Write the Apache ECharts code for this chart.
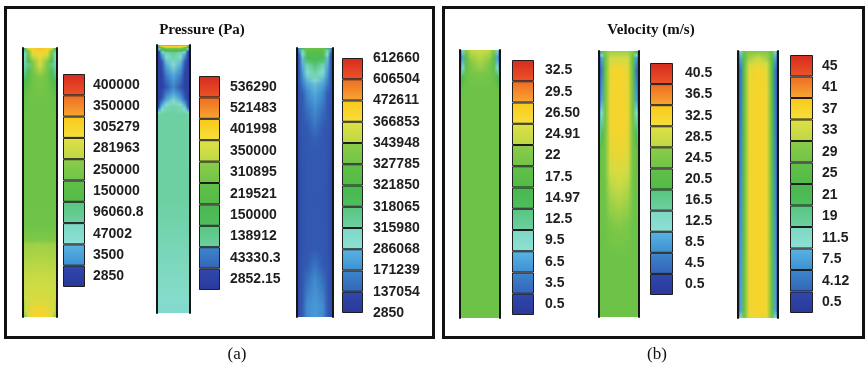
<!DOCTYPE html>
<html><head><meta charset="utf-8">
<script src="https://cdn.jsdelivr.net/npm/echarts@6/dist/echarts.min.js"></script>
<style>html,body{margin:0;padding:0;background:#fff}#c{width:866px;height:367px}</style>
</head><body><div id="c"></div>
<script>
// ================= DATA =================
// colour-bar tick labels (top -> bottom)
const pressureLabelsA = ['400000','350000','305279','281963','250000','150000','96060.8','47002','3500','2850'];
const pressureLabelsB = ['536290','521483','401998','350000','310895','219521','150000','138912','43330.3','2852.15'];
const pressureLabelsC = ['612660','606504','472611','366853','343948','327785','321850','318065','315980','286068','171239','137054','2850'];
const velocityLabelsA = ['32.5','29.5','26.50','24.91','22','17.5','14.97','12.5','9.5','6.5','3.5','0.5'];
const velocityLabelsB = ['40.5','36.5','32.5','28.5','24.5','20.5','16.5','12.5','8.5','4.5','0.5'];
const velocityLabelsC = ['45','41','37','33','29','25','21','19','11.5','7.5','4.12','0.5'];

// radial sample positions across a tube (wall -> axis, fraction of width)
const radialNodes = [0, 0.06, 0.15, 0.28, 0.5];

// axial stations (fraction of tube length from inlet at top) and field values at radialNodes
const pressureStationsA = [0, 0.02, 0.06, 0.11, 0.17, 0.24, 0.66, 0.73, 0.85, 0.93, 0.98, 1];
const pressureFieldA = [
  [2850, 150000, 300000, 310000, 315000],
  [47002, 60000, 200000, 290000, 305279],
  [70000, 75000, 100000, 240000, 285000],
  [110000, 115000, 140000, 200000, 250000],
  [170000, 175000, 190000, 210000, 220000],
  [200000, 200000, 200000, 200000, 200000],
  [205000, 205000, 205000, 205000, 205000],
  [262000, 262000, 262000, 263000, 264000],
  [278000, 278000, 278000, 279000, 280000],
  [282000, 282000, 283000, 285000, 287000],
  [150000, 281963, 288000, 298000, 305279],
  [2850, 250000, 290000, 300000, 305279]
];
const pressureStationsB = [0, 0.011, 0.026, 0.063, 0.112, 0.157, 0.198, 0.228, 0.257, 0.58, 0.95, 1];
const pressureFieldB = [
  [2852, 350000, 521483, 521483, 521483],
  [2852, 150000, 250000, 310895, 310895],
  [2852, 2852, 100000, 125000, 138912],
  [2852, 2852, 20000, 90000, 115000],
  [2852, 2852, 2852, 50000, 80000],
  [2852, 2852, 2852, 20000, 55000],
  [2852, 2852, 20000, 70000, 95000],
  [2852, 20000, 90000, 115000, 125000],
  [110000, 129000, 129000, 129000, 129000],
  [129000, 129000, 129000, 129000, 129000],
  [107000, 107000, 107000, 107000, 107000],
  [100000, 105000, 105000, 105000, 105000]
];
const pressureStationsC = [0, 0.026, 0.063, 0.11, 0.164, 0.23, 0.34, 0.565, 0.75, 0.862, 0.955, 1];
const pressureFieldC = [
  [2850, 200000, 321850, 327785, 327785],
  [2850, 137054, 300000, 321850, 321850],
  [2850, 130000, 250000, 316000, 318065],
  [2850, 125000, 171239, 290000, 315000],
  [2850, 110000, 140000, 171239, 250000],
  [2850, 90000, 130000, 150000, 171239],
  [2850, 60000, 110000, 130000, 140000],
  [2850, 50000, 100000, 120000, 125000],
  [2850, 50000, 105000, 125000, 137054],
  [2850, 60000, 120000, 150000, 171239],
  [2850, 70000, 137054, 171239, 205000],
  [2850, 70000, 137054, 171239, 210000]
];
const velocityStationsA = [0, 0.03, 0.067, 0.104, 0.15, 1];
const velocityFieldA = [
  [0.5, 9.5, 22, 24.5, 24.91],
  [0.5, 6.5, 17.5, 23, 24],
  [3.5, 9.5, 18.5, 21.5, 23],
  [12.5, 16, 19.5, 20.5, 21],
  [19.75, 19.75, 19.75, 19.75, 19.75],
  [19.75, 19.75, 19.75, 19.75, 19.75]
];
const velocityStationsB = [0, 0.026, 0.071, 0.184, 0.278, 0.372, 0.523, 0.673, 0.786, 1];
const velocityFieldB = [
  [4.5, 20.5, 24.5, 26, 26],
  [0.5, 8.5, 22, 28.5, 28.5],
  [0.5, 4.5, 21.5, 31, 32.5],
  [0.5, 8.5, 22.5, 31.5, 32.5],
  [8.5, 16.5, 23, 31.5, 32.5],
  [20.5, 22, 23.5, 30.5, 31.5],
  [22.5, 22.5, 23, 27, 28],
  [22.5, 22.5, 22.5, 24, 24.5],
  [22.5, 22.5, 22.5, 22.5, 22.5],
  [22.5, 22.5, 22.5, 22.5, 22.5]
];
const velocityStationsC = [0, 0.03, 0.07, 0.15, 0.97, 1];
const velocityFieldC = [
  [0.5, 11.5, 27, 29, 29],
  [0.5, 7.5, 25, 31, 33],
  [0.5, 4.12, 25, 35, 37],
  [0.5, 4.12, 25, 36, 37],
  [0.5, 7.5, 26, 36, 37],
  [4.12, 11.5, 27, 35, 36]
];

// ================= STYLE =================
const paletteTop    = ['#d62a1e','#ee6c24','#fbc81a','#e0e044','#8ccc48','#62c048','#4ab84e','#56c67e','#7cd8c2','#58b4e2','#3c86cc','#3048ac'];
const paletteBottom = ['#ec5428','#f8a630','#f5e03c','#bcd846','#70c448','#52bb48','#4ebe5e','#6ed0a2','#8ee0d6','#3f8fd2','#3464b8','#2a389a'];
const legendPaletteA = [0,1,2,3,4,5,7,8,9,11];
const legendPaletteB = [0,1,2,3,4,5,6,7,10,11];
const legendPaletteFull = [0,1,2,3,4,5,6,7,8,9,10,11];
const legendPaletteVB = [0,1,2,3,4,5,7,8,9,10,11];

function hex(h){return [parseInt(h.substr(1,2),16),parseInt(h.substr(3,2),16),parseInt(h.substr(5,2),16)];}
const paletteMid = paletteTop.map((t,i)=>{const a=hex(t),b=hex(paletteBottom[i]);return [0,1,2].map(k=>(a[k]+b[k])/2);});
function paletteColor(p){
  p=Math.max(0,Math.min(11,p));const i=Math.min(10,Math.floor(p));const f=p-i;
  const a=paletteMid[i],b=paletteMid[i+1];
  return 'rgb('+[0,1,2].map(k=>Math.round(a[k]+(b[k]-a[k])*f)).join(',')+')';
}
function makeMapper(labels, pal, boundary){
  const vals=labels.map(parseFloat);
  const pos=vals.map((_,i)=>boundary?Math.min(11,Math.max(0,i-0.5)):pal[i]);
  const n=vals.length;
  return v=>{
    if(v>=vals[0])return pos[0];
    if(v<=vals[n-1])return pos[n-1];
    for(let i=0;i<n-1;i++){
      if(v<=vals[i]&&v>=vals[i+1]){const f=(vals[i]-v)/(vals[i]-vals[i+1]);return pos[i]+f*(pos[i+1]-pos[i]);}
    }
    return pos[n-1];
  };
}

const grids=[],xAxes=[],yAxes=[],series=[];
const labelFont={color:'#1e1e1e',fontSize:14,fontWeight:'bold',fontFamily:'Liberation Sans, Arial, sans-serif'};

function addLegend(labels, pal, boundary, box, margin){
  const gi=grids.length;
  grids.push({left:box[0],top:box[1],width:box[2],height:box[3]});
  xAxes.push({gridIndex:gi,type:'value',min:0,max:1,show:false});
  const yi=yAxes.length;
  const labelAxis={gridIndex:gi,type:'category',inverse:true,position:'right',
    axisLine:{show:false},axisTick:{show:false},splitLine:{show:false},
    axisLabel:Object.assign({show:true,margin:margin,interval:0},labelFont)};
  if(boundary){
    yAxes.push({gridIndex:gi,type:'category',inverse:true,position:'left',data:pal.map((_,k)=>'box'+k),show:false});
    yAxes.push(Object.assign({},labelAxis,{data:labels,boundaryGap:false}));
  }else{
    yAxes.push(Object.assign({},labelAxis,{data:labels}));
  }
  series.push({type:'bar',xAxisIndex:xAxes.length-1,yAxisIndex:yi,barCategoryGap:'0%',silent:true,
    data:pal.map(p=>({value:1,itemStyle:{
      color:new echarts.graphic.LinearGradient(0,0,0,1,[{offset:0,color:paletteTop[p]},{offset:1,color:paletteBottom[p]}]),
      borderColor:'#1e1e1e',borderWidth:1}}))});
}

function addColumn(stations, field, mapper, box){
  const gi=grids.length;
  grids.push({left:box[0],top:box[1],width:box[2],height:box[3]});
  xAxes.push({gridIndex:gi,type:'value',min:0,max:1,show:false});
  const yi=yAxes.length;
  const edge={gridIndex:gi,type:'value',min:0,max:1,inverse:true,z:5,
    axisLine:{show:true,onZero:false,lineStyle:{color:'#151515',width:2}},
    axisTick:{show:false},axisLabel:{show:false},splitLine:{show:false}};
  yAxes.push(Object.assign({position:'left'},edge));
  yAxes.push(Object.assign({position:'right'},edge));
  series.push({type:'custom',xAxisIndex:xAxes.length-1,yAxisIndex:yi,silent:true,
    data:stations.map(t=>[0.5,t]),
    renderItem:function(params,api){
      const k=params.dataIndex;
      if(k>=stations.length-1)return null;
      const pA=api.coord([0,stations[k]]),pB=api.coord([1,stations[k+1]]);
      const x0=pA[0],x1=pB[0],y0=pA[1],y1=pB[1],h=y1-y0;
      const r0=Math.round(y0),r1=Math.round(y1);
      const rA=field[k],rB=field[k+1];
      const children=[];
      for(let r=r0;r<r1;r++){
        const f=Math.max(0,Math.min(1,(r+0.5-y0)/h));
        const cols=rA.map((a,j)=>paletteColor(mapper(a+(rB[j]-a)*f)));
        const stops=[];
        radialNodes.forEach((u,j)=>stops.push({offset:u,color:cols[j]}));
        for(let j=radialNodes.length-2;j>=0;j--)stops.push({offset:1-radialNodes[j],color:cols[j]});
        children.push({type:'rect',shape:{x:x0,y:r,width:x1-x0,height:1},
          style:{fill:new echarts.graphic.LinearGradient(0,0,1,0,stops)}});
      }
      return {type:'group',children:children};
    }});
}

// legends
addLegend(pressureLabelsA, legendPaletteA, false, [63,74,22,213], 8);
addLegend(pressureLabelsB, legendPaletteB, false, [199,76,21,214], 10);
addLegend(pressureLabelsC, legendPaletteFull, true, [342,58,21,255], 10);
addLegend(velocityLabelsA, legendPaletteFull, false, [512,60,22,255], 11);
addLegend(velocityLabelsB, legendPaletteVB, false, [650,63,23,232], 12);
addLegend(velocityLabelsC, legendPaletteFull, false, [790,55,23,258], 9);
// tubes
addColumn(pressureStationsA, pressureFieldA, makeMapper(pressureLabelsA, legendPaletteA, false), [23,48,34,269]);
addColumn(pressureStationsB, pressureFieldB, makeMapper(pressureLabelsB, legendPaletteB, false), [157,45,33,268]);
addColumn(pressureStationsC, pressureFieldC, makeMapper(pressureLabelsC, legendPaletteFull, true), [297,48,36,269]);
addColumn(velocityStationsA, velocityFieldA, makeMapper(velocityLabelsA, legendPaletteFull, false), [460,50,40,268]);
addColumn(velocityStationsB, velocityFieldB, makeMapper(velocityLabelsB, legendPaletteVB, false), [599,51,40,266]);
addColumn(velocityStationsC, velocityFieldC, makeMapper(velocityLabelsC, legendPaletteFull, false), [738,51,40,267]);

const serif='Liberation Serif, Times New Roman, serif';
const chart=echarts.init(document.getElementById('c'),null,{renderer:'canvas'});
chart.setOption({
  animation:false,
  backgroundColor:'#ffffff',
  grid:grids,xAxis:xAxes,yAxis:yAxes,series:series,
  graphic:[
    {type:'rect',z:100,shape:{x:5.5,y:7.5,width:428,height:330},style:{fill:'none',stroke:'#111',lineWidth:3}},
    {type:'rect',z:100,shape:{x:443.5,y:7.5,width:420,height:330},style:{fill:'none',stroke:'#111',lineWidth:3}},
    {type:'text',z:100,x:202,y:30,style:{text:'Pressure (Pa)',align:'center',verticalAlign:'middle',fontSize:15,fontWeight:'bold',fontFamily:serif,fill:'#111'}},
    {type:'text',z:100,x:651,y:30,style:{text:'Velocity (m/s)',align:'center',verticalAlign:'middle',fontSize:15,fontWeight:'bold',fontFamily:serif,fill:'#111'}},
    {type:'text',z:100,x:237,y:355,style:{text:'(a)',align:'center',verticalAlign:'middle',fontSize:17,fontFamily:serif,fill:'#111'}},
    {type:'text',z:100,x:657,y:355,style:{text:'(b)',align:'center',verticalAlign:'middle',fontSize:17,fontFamily:serif,fill:'#111'}}
  ]
});
</script></body></html>
